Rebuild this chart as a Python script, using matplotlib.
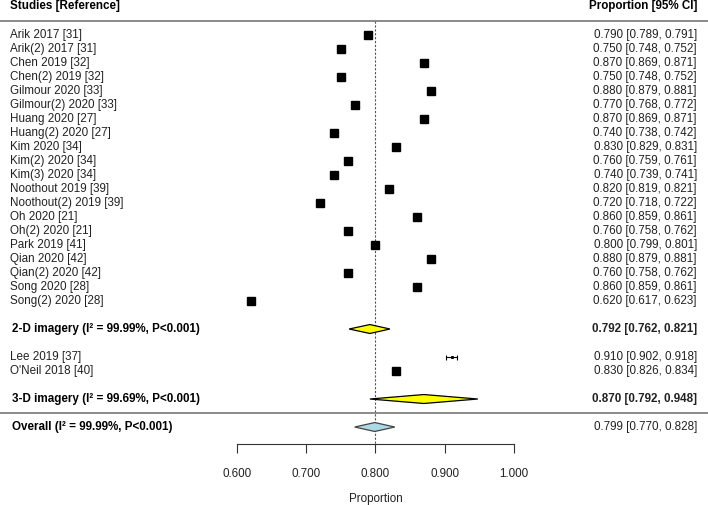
import matplotlib.pyplot as plt

plt.rcParams['font.family'] = ['Liberation Sans', 'DejaVu Sans']

# study-level data
studies = ["Arik 2017 [31]", "Arik(2) 2017 [31]", "Chen 2019 [32]", "Chen(2) 2019 [32]",
           "Gilmour 2020 [33]", "Gilmour(2) 2020 [33]", "Huang 2020 [27]", "Huang(2) 2020 [27]",
           "Kim 2020 [34]", "Kim(2) 2020 [34]", "Kim(3) 2020 [34]", "Noothout 2019 [39]",
           "Noothout(2) 2019 [39]", "Oh 2020 [21]", "Oh(2) 2020 [21]", "Park 2019 [41]",
           "Qian 2020 [42]", "Qian(2) 2020 [42]", "Song 2020 [28]", "Song(2) 2020 [28]",
           "Lee 2019 [37]", "O'Neil 2018 [40]"]
prop = [0.790, 0.750, 0.870, 0.750, 0.880, 0.770, 0.870, 0.740, 0.830, 0.760, 0.740,
        0.820, 0.720, 0.860, 0.760, 0.800, 0.880, 0.760, 0.860, 0.620, 0.910, 0.830]
lo = [0.789, 0.748, 0.869, 0.748, 0.879, 0.768, 0.869, 0.738, 0.829, 0.759, 0.739,
      0.819, 0.718, 0.859, 0.758, 0.799, 0.879, 0.758, 0.859, 0.617, 0.902, 0.826]
hi = [0.791, 0.752, 0.871, 0.752, 0.881, 0.772, 0.871, 0.742, 0.831, 0.761, 0.741,
      0.821, 0.722, 0.861, 0.762, 0.801, 0.881, 0.762, 0.861, 0.623, 0.918, 0.834]

# pooled estimates
sum_labels = ["2-D imagery (I² = 99.99%, P<0.001)", "3-D imagery (I² = 99.69%, P<0.001)",
              "Overall (I² = 99.99%, P<0.001)"]
sum_est = [0.792, 0.870, 0.799]
sum_lo = [0.762, 0.792, 0.770]
sum_hi = [0.821, 0.948, 0.828]

ticks = [0.6, 0.7, 0.8, 0.9, 1.0]

# row positions (top to bottom)
rows = list(range(20)) + [23, 24]
sum_rows = [21, 26, 28]

fig = plt.figure(figsize=(7.08, 5.05), dpi=100)
ax = fig.add_axes([0, 0, 1, 1])
x0, x1 = 0.2575, 1.2806
ax.set_xlim(x0, x1)
ax.set_ylim(33.57, -2.5)

fs = 8.4
txt = '#222222'
xl = 0.272
xr = 1.2647

ax.text(xl, -2.05, "Studies [Reference]", fontsize=fs, fontweight='bold', va='center', ha='left')
ax.text(xr, -2.05, "Proportion [95% CI]", fontsize=fs, fontweight='bold', va='center', ha='right')
ax.axhline(-1.0, color='#777777', lw=1.2)
ax.axhline(27.0, color='#777777', lw=1.2)
ax.plot([0.8, 0.8], [-1.0, 29.2], color='#555555', lw=0.8, ls=(0, (2, 1.5)), zorder=1)

for i in range(len(studies)):
    y = rows[i]
    ax.text(xl, y, studies[i], fontsize=fs, color=txt, va='center', ha='left')
    ax.text(xr, y, "%.3f [%.3f, %.3f]" % (prop[i], lo[i], hi[i]),
            fontsize=fs, color=txt, va='center', ha='right')
    ms = 5.2 if hi[i] - lo[i] < 0.01 else 1.2
    ax.errorbar(prop[i], y, xerr=[[prop[i] - lo[i]], [hi[i] - prop[i]]], fmt='none',
                ecolor='black', elinewidth=0.8, capsize=1.8, capthick=0.8, zorder=2)
    ax.plot(prop[i], y, marker='s', ms=ms, color='black', ls='none', zorder=3)

fills = ['#ffff00', '#ffff00', '#add8e6']
edges = ['black', 'black', '#444444']
for j in range(3):
    y = sum_rows[j]
    h = 0.32
    ax.fill([sum_lo[j], sum_est[j], sum_hi[j], sum_est[j]], [y, y - h, y, y + h],
            facecolor=fills[j], edgecolor=edges[j], lw=0.9, zorder=3)
    ax.text(xl + 0.003, y, sum_labels[j], fontsize=fs, fontweight='bold', va='center', ha='left')
    w = 'bold' if j < 2 else 'normal'
    ax.text(xr, y, "%.3f [%.3f, %.3f]" % (sum_est[j], sum_lo[j], sum_hi[j]),
            fontsize=fs, fontweight=w, color=txt, va='center', ha='right')

# x axis drawn as bottom spine
for s in ['top', 'right', 'left']:
    ax.spines[s].set_visible(False)
ax.spines['bottom'].set_position(('data', 29.2))
ax.spines['bottom'].set_bounds(0.6, 1.0)
ax.spines['bottom'].set_color('#333333')
ax.spines['bottom'].set_linewidth(0.8)
ax.set_xticks(ticks)
ax.set_xticklabels(["%.3f" % t for t in ticks], fontsize=fs, color=txt)
ax.tick_params(axis='x', length=6.5, width=0.8, color='#333333', pad=11)
ax.set_yticks([])
ax.set_xlabel("Proportion", fontsize=fs, color=txt)
ax.xaxis.set_label_coords((0.8 - x0) / (x1 - x0), 0.0)
ax.xaxis.label.set_va('bottom')

fig.savefig("out.png", dpi=100)
